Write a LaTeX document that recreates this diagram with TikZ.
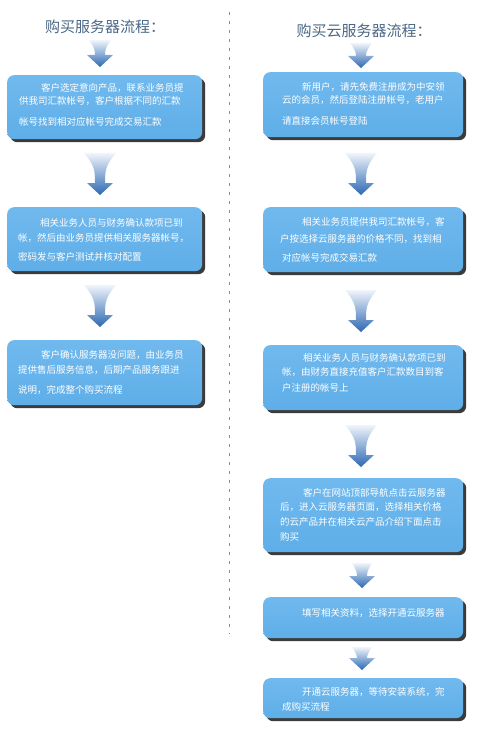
\documentclass[tikz,border=0pt]{standalone}
\usepackage{fontspec}
\setmainfont{Noto Sans CJK SC}
\usetikzlibrary{shadows}
\definecolor{boxblue}{HTML}{5FAEE8}
\definecolor{boxtop}{HTML}{70B9EE}
\definecolor{titleblue}{HTML}{4A6886}
\definecolor{arrtop}{HTML}{F0F5FB}
\definecolor{arrmid}{HTML}{7FA8D8}
\definecolor{arrbot}{HTML}{2C68B2}
\tikzset{
  flowbox/.style={draw=none, rounded corners=7pt, top color=boxtop, bottom color=boxblue,
    inner sep=0pt, anchor=north west,
    drop shadow={shadow xshift=3pt, shadow yshift=-3pt, fill=black!85, opacity=0.9}},
  boxtxt/.style={text=white, font=\fontsize{9.5}{11}\selectfont, anchor=west, inner sep=0pt},
  titletxt/.style={text=titleblue, font=\fontsize{15}{16}\selectfont, inner sep=0pt},
  divider/.style={draw=black!45, line width=1pt, dash pattern=on 3pt off 6pt}
}
\newcommand\flowarrow[5]{%
  \shade[top color=arrtop, middle color=arrmid, bottom color=arrbot]
   (#1-#4,-#2) .. controls (#1-5,{-#2-0.3*(#3-#2)}) and (#1-5,{-#2-0.45*(#3-#2)}) ..
   (#1-5,{-(#3-12)}) -- (#1-13,{-(#3-12)}) -- (#1,-#3) -- (#1+13,{-(#3-12)}) -- (#1+5,{-(#3-12)})
   .. controls (#1+5,{-#2-0.45*(#3-#2)}) and (#1+5,{-#2-0.3*(#3-#2)}) .. (#1+#4,-#2) -- cycle;
  \coordinate (#5) at (#1,-#3);
}
\begin{document}
\begin{tikzpicture}[x=1pt,y=1pt]
\useasboundingbox[fill=white] (0,0) rectangle (500,-746);

% divider
\coordinate (dtop) at (229,-12);
\coordinate (dbot) at (229,-634);
\draw[divider] (dtop) -- (dbot);

% titles
\node[titletxt] (tl) at (105,-27) {购买服务器流程：};
\node[titletxt] (tr) at (364,-31) {购买云服务器流程：};

% left column boxes
\node[flowbox, minimum width=195pt, minimum height=64pt] (L1) at (7,-75) {};
\node[flowbox, minimum width=195pt, minimum height=64pt] (L2) at (7,-207) {};
\node[flowbox, minimum width=195pt, minimum height=65pt] (L3) at (7,-340) {};

% right column boxes
\node[flowbox, minimum width=200pt, minimum height=65pt] (R1) at (263,-72) {};
\node[flowbox, minimum width=200pt, minimum height=65pt] (R2) at (263,-207) {};
\node[flowbox, minimum width=200pt, minimum height=65pt] (R3) at (263,-345) {};
\node[flowbox, minimum width=200pt, minimum height=74pt] (R4) at (263,-478) {};
\node[flowbox, minimum width=200pt, minimum height=41pt] (R5) at (263,-597) {};
\node[flowbox, minimum width=200pt, minimum height=40pt] (R6) at (263,-678) {};

% arrows left
\flowarrow{100}{40}{67}{11}{al1}
\flowarrow{100}{153}{195}{16}{al2}
\flowarrow{100}{285}{327}{16}{al3}
% arrows right
\flowarrow{361}{43}{68}{11}{ar1}
\flowarrow{361}{153}{195}{16}{ar2}
\flowarrow{361}{290}{332}{16}{ar3}
\flowarrow{361}{425}{467}{16}{ar4}
\flowarrow{362}{563}{588}{10}{ar5}
\flowarrow{362}{647}{670}{10}{ar6}

% left texts
\node[boxtxt] (l1a) at (41,-88) {客户选定意向产品，联系业务员提};
\node[boxtxt] (l1b) at (19,-101) {供我司汇款帐号，客户根据不同的汇款};
\node[boxtxt] (l1c) at (19,-122) {帐号找到相对应帐号完成交易汇款};

\node[boxtxt] (l2a) at (40,-223) {相关业务人员与财务确认款项已到};
\node[boxtxt] (l2b) at (18,-238) {帐，然后由业务员提供相关服务器帐号，};
\node[boxtxt] (l2c) at (18,-257) {密码发与客户测试并核对配置};

\node[boxtxt] (l3a) at (41,-355) {客户确认服务器没问题，由业务员};
\node[boxtxt] (l3b) at (18,-370) {提供售后服务信息，后期产品服务跟进};
\node[boxtxt] (l3c) at (18,-390) {说明，完成整个购买流程};

% right texts
\node[boxtxt] (r1a) at (302,-87) {新用户，请先免费注册成为中安领};
\node[boxtxt] (r1b) at (282,-100) {云的会员，然后登陆注册帐号，老用户};
\node[boxtxt] (r1c) at (282,-121) {请直接会员帐号登陆};

\node[boxtxt] (r2a) at (302,-222) {相关业务员提供我司汇款帐号，客};
\node[boxtxt] (r2b) at (280,-239) {户按选择云服务器的价格不同，找到相};
\node[boxtxt] (r2c) at (282,-258) {对应帐号完成交易汇款};

\node[boxtxt] (r3a) at (303,-358) {相关业务人员与财务确认款项已到};
\node[boxtxt] (r3b) at (282,-372) {帐，由财务直接充值客户汇款数目到客};
\node[boxtxt] (r3c) at (282,-388) {户注册的帐号上};

\node[boxtxt] (r4a) at (303,-493) {客户在网站顶部导航点击云服务器};
\node[boxtxt] (r4b) at (280,-507) {后，进入云服务器页面，选择相关价格};
\node[boxtxt] (r4c) at (280,-522) {的云产品并在相关云产品介绍下面点击};
\node[boxtxt] (r4d) at (280,-537) {购买};

\node[boxtxt] (r5a) at (302,-613) {填写相关资料，选择开通云服务器};

\node[boxtxt] (r6a) at (302,-692) {开通云服务器，等待安装系统，完};
\node[boxtxt] (r6b) at (282,-707) {成购买流程};
\end{tikzpicture}
\end{document}
